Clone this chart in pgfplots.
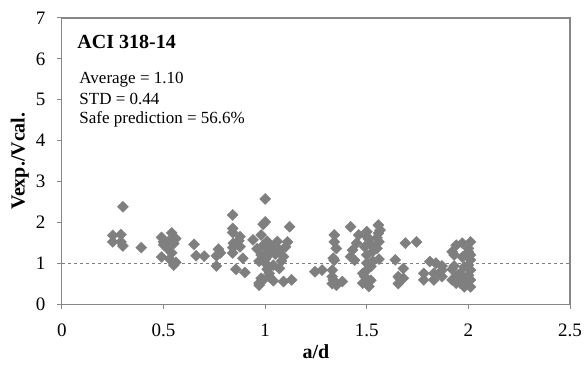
\documentclass[border=0pt]{standalone}
\usepackage{pgfplots}
\pgfplotsset{compat=1.18}
\usepackage{fontspec}
\setmainfont{Liberation Serif}
\definecolor{pt}{HTML}{7F7F7F}
\definecolor{ax}{HTML}{868686}
\begin{document}
\begin{tikzpicture}
\useasboundingbox (-62pt,-63pt) rectangle (524pt,304pt);
\begin{axis}[
  at={(0pt,0pt)}, anchor=south west,
  scale only axis, width=508pt, height=286pt,
  xmin=0, xmax=2.5, ymin=0, ymax=7,
  xtick={0,0.5,1,1.5,2,2.5}, ytick={0,1,2,3,4,5,6,7},
  axis line style={ax, line width=1pt},
  tick style={ax, line width=1pt},
  tick align=outside, major tick length=5pt,
  xtick pos=bottom, ytick pos=left,
  /pgf/number format/assume math mode=true,
  ticklabel style={font=\fontsize{19}{21}\selectfont},
  yticklabel style={anchor=east, xshift=-8pt},
  xticklabel style={anchor=north, yshift=-11pt},
  xlabel={\textbf{a/d}}, ylabel={\textbf{Vexp./Vcal.}},
  label style={font=\fontsize{20}{22}\selectfont},
  xlabel style={at={(axis description cs:0.5,-0.168)}, anchor=center},
  ylabel style={at={(axis description cs:-0.083,0.5)}, anchor=center, rotate=0},
  clip=false,
]
\addplot[pt, dashed, line width=0.6pt, forget plot] coordinates {(0,1) (2.5,1)};
\addplot[only marks, mark=square*, mark size=3.9pt, mark options={rotate=45, fill=pt, draw=pt}] table {
x y
0.25 1.68
0.29 1.70
0.25 1.52
0.29 1.52
0.30 1.42
0.30 2.38
0.39 1.38
0.49 1.63
0.54 1.74
0.50 1.52
0.55 1.48
0.52 1.35
0.49 1.15
0.53 1.10
0.55 0.95
0.56 1.02
0.50 1.45
0.53 1.56
0.56 1.60
0.54 1.25
0.65 1.46
0.66 1.18
0.70 1.17
0.77 1.34
0.76 1.18
0.76 0.93
0.78 1.25
0.84 2.18
0.84 1.85
0.84 1.75
0.876 1.65
0.843 1.49
0.84 1.38
0.876 1.40
0.84 1.25
0.89 1.12
0.856 0.85
0.90 0.77
0.87 1.55
1.00 2.57
1.00 2.01
0.99 1.95
0.94 1.57
0.98 1.69
0.99 1.44
0.96 1.35
0.98 1.20
1.00 1.00
0.98 0.63
0.97 0.51
1.02 0.67
1.01 1.27
1.12 1.89
1.01 1.53
1.06 1.53
1.11 1.52
1.07 1.32
1.09 1.16
1.01 1.16
1.04 0.95
1.07 0.87
1.01 0.85
0.99 0.59
1.04 0.57
1.09 0.55
1.13 0.59
0.97 0.46
1.03 1.40
1.05 1.22
1.08 1.05
1.00 1.10
0.97 1.05
1.02 0.75
1.10 1.40
1.245 0.79
1.28 0.83
1.33 0.83
1.33 0.67
1.33 0.50
1.34 1.52
1.35 1.36
1.34 1.07
1.34 1.69
1.335 1.12
1.335 0.59
1.35 0.46
1.38 0.55
1.42 1.89
1.46 1.69
1.45 1.49
1.43 1.32
1.42 1.16
1.44 1.07
1.50 1.77
1.51 1.58
1.52 1.45
1.53 1.29
1.557 1.93
1.557 1.73
1.56 1.52
1.55 1.36
1.56 1.10
1.50 1.00
1.50 0.83
1.49 0.67
1.48 0.51
1.51 0.43
1.52 0.58
1.48 0.75
1.50 1.20
1.52 0.92
1.55 1.62
1.53 1.05
1.49 1.40
1.50 1.65
1.565 1.81
1.64 1.08
1.655 0.67
1.655 0.50
1.69 1.49
1.745 1.52
1.68 0.87
1.66 0.63
1.68 0.63
1.81 1.04
1.84 1.00
1.78 0.75
1.78 0.59
1.83 0.75
1.83 0.59
1.87 0.67
1.87 0.83
1.92 1.28
1.94 1.44
1.93 0.93
1.94 0.67
1.94 0.51
1.97 1.49
2.01 1.52
1.93 1.20
2.00 1.28
1.87 0.93
1.92 0.85
1.92 0.59
1.96 0.51
1.96 0.75
1.98 0.91
2.01 1.08
2.01 0.83
2.01 0.59
2.01 0.42
1.98 0.42
1.98 0.63
2.00 1.36
2.00 0.70
1.99 0.50
2.00 0.95
1.97 1.15
2.01 1.20
};
\node[anchor=west, font=\fontsize{20}{22}\selectfont\bfseries, inner sep=0pt] at (axis description cs:0.03,0.917) {ACI 318-14};
\node[anchor=west, font=\fontsize{17}{19}\selectfont, inner sep=0pt] at (axis description cs:0.034,0.783) {Average = 1.10};
\node[anchor=west, font=\fontsize{17}{19}\selectfont, inner sep=0pt] at (axis description cs:0.034,0.717) {STD = 0.44};
\node[anchor=west, font=\fontsize{17}{19}\selectfont, inner sep=0pt] at (axis description cs:0.034,0.647) {Safe prediction = 56.6\%};
\end{axis}
\draw[ax, line width=1.2pt] (0pt,286pt) -- (508pt,286pt) -- (508pt,0pt);
\end{tikzpicture}
\end{document}
